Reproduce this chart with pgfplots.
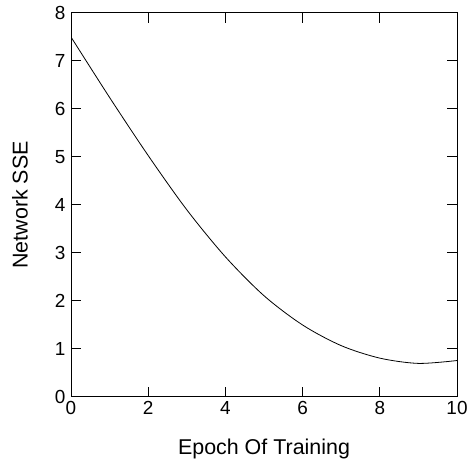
\documentclass[border=0pt]{standalone}
\usepackage{pgfplots}
\pgfplotsset{compat=1.18}
\usepackage{fontspec}
\setmainfont{Liberation Sans}
\begin{document}
\begin{tikzpicture}
\begin{axis}[
  at={(0,0)}, anchor=south west,
  scale only axis,
  width=386bp, height=384bp,
  xmin=0, xmax=10, ymin=0, ymax=8,
  xtick={0,2,...,10}, ytick={0,1,...,8},
  tick align=inside,
  major tick length=10bp,
  axis line style={line width=1pt},
  every tick/.style={black, line width=1pt},
  /pgf/number format/assume math mode=true,
  tick label style={font=\fontsize{19}{21}\selectfont},
  label style={font=\fontsize{21.5}{24}\selectfont},
  xlabel={Epoch Of Training},
  ylabel={Network SSE},
  xlabel style={at={(axis description cs:0.5,0)}, anchor=center, yshift=-52bp},
  ylabel style={at={(axis description cs:0,0.5)}, anchor=center, yshift=51bp},
  xticklabel style={yshift=-1bp},
  yticklabel style={xshift=-2bp},
]
\addplot[black, line width=0.8pt, smooth] coordinates {
(0,7.5) (1,6.24) (2,5.03) (3,3.90) (4,2.92) (5,2.11) (6,1.50) (7,1.07) (8,0.81) (9,0.70) (10,0.76)
};
\end{axis}
\path (-71bp,-63bp) rectangle (401bp,397bp);
\end{tikzpicture}
\end{document}
